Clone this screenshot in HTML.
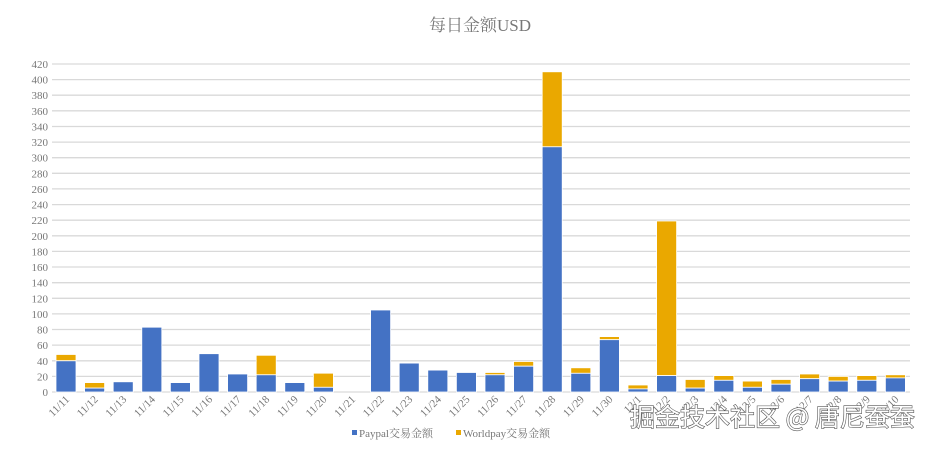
<!DOCTYPE html><html><head><meta charset="utf-8"><style>body{margin:0;background:#fff}svg text{font-family:"Liberation Serif","Noto Serif CJK SC",serif;fill:#777}</style></head><body>
<svg width="930" height="446" xmlns="http://www.w3.org/2000/svg">
<text x="480" y="31" font-size="17" text-anchor="middle" fill="#666">每日金额USD</text>
<g stroke="#d9d9d9" stroke-width="1.3">
<line x1="52" x2="910" y1="392" y2="392"/><line x1="52" x2="910" y1="376.4" y2="376.4"/><line x1="52" x2="910" y1="360.8" y2="360.8"/><line x1="52" x2="910" y1="345.1" y2="345.1"/><line x1="52" x2="910" y1="329.5" y2="329.5"/><line x1="52" x2="910" y1="313.9" y2="313.9"/><line x1="52" x2="910" y1="298.3" y2="298.3"/><line x1="52" x2="910" y1="282.7" y2="282.7"/><line x1="52" x2="910" y1="267" y2="267"/><line x1="52" x2="910" y1="251.4" y2="251.4"/><line x1="52" x2="910" y1="235.8" y2="235.8"/><line x1="52" x2="910" y1="220.2" y2="220.2"/><line x1="52" x2="910" y1="204.6" y2="204.6"/><line x1="52" x2="910" y1="188.9" y2="188.9"/><line x1="52" x2="910" y1="173.3" y2="173.3"/><line x1="52" x2="910" y1="157.7" y2="157.7"/><line x1="52" x2="910" y1="142.1" y2="142.1"/><line x1="52" x2="910" y1="126.5" y2="126.5"/><line x1="52" x2="910" y1="110.8" y2="110.8"/><line x1="52" x2="910" y1="95.2" y2="95.2"/><line x1="52" x2="910" y1="79.6" y2="79.6"/><line x1="52" x2="910" y1="64" y2="64"/>
</g>
<g font-size="11" text-anchor="end">
<text x="48" y="396">0</text><text x="48" y="380.4">20</text><text x="48" y="364.8">40</text><text x="48" y="349.1">60</text><text x="48" y="333.5">80</text><text x="48" y="317.9">100</text><text x="48" y="302.3">120</text><text x="48" y="286.7">140</text><text x="48" y="271">160</text><text x="48" y="255.4">180</text><text x="48" y="239.8">200</text><text x="48" y="224.2">220</text><text x="48" y="208.6">240</text><text x="48" y="192.9">260</text><text x="48" y="177.3">280</text><text x="48" y="161.7">300</text><text x="48" y="146.1">320</text><text x="48" y="130.5">340</text><text x="48" y="114.8">360</text><text x="48" y="99.2">380</text><text x="48" y="83.6">400</text><text x="48" y="68">420</text>
</g>
<g fill="#eaa800" stroke="#fff" stroke-width="0.8">
<rect x="56" y="354.5" width="20" height="6.2"/><rect x="84.6" y="382.6" width="20" height="5.5"/><rect x="256.2" y="355.3" width="20" height="19.5"/><rect x="313.4" y="373.2" width="20" height="14.1"/><rect x="485" y="372.5" width="20" height="2.3"/><rect x="513.6" y="361.5" width="20" height="4.7"/><rect x="542.2" y="71.8" width="20" height="75"/><rect x="570.8" y="367.8" width="20" height="5.5"/><rect x="599.4" y="336.6" width="20" height="3.1"/><rect x="628" y="385" width="20" height="3.9"/><rect x="656.6" y="221" width="20" height="154.6"/><rect x="685.2" y="379.5" width="20" height="8.6"/><rect x="713.8" y="375.6" width="20" height="4.7"/><rect x="742.4" y="381.1" width="20" height="6.2"/><rect x="771" y="379.5" width="20" height="4.7"/><rect x="799.6" y="374" width="20" height="4.7"/><rect x="828.2" y="376.4" width="20" height="4.7"/><rect x="856.8" y="375.6" width="20" height="4.7"/><rect x="885.4" y="374.8" width="20" height="3.1"/>
</g>
<g fill="#4472c4" stroke="#fff" stroke-width="0.8">
<rect x="56" y="360.8" width="20" height="31.2"/><rect x="84.6" y="388.1" width="20" height="3.9"/><rect x="113.2" y="381.8" width="20" height="10.2"/><rect x="141.8" y="327.2" width="20" height="64.8"/><rect x="170.4" y="382.6" width="20" height="9.4"/><rect x="199" y="353.7" width="20" height="38.3"/><rect x="227.6" y="374" width="20" height="18"/><rect x="256.2" y="374.8" width="20" height="17.2"/><rect x="284.8" y="382.6" width="20" height="9.4"/><rect x="313.4" y="387.3" width="20" height="4.7"/><rect x="370.6" y="310" width="20" height="82"/><rect x="399.2" y="363.1" width="20" height="28.9"/><rect x="427.8" y="370.1" width="20" height="21.9"/><rect x="456.4" y="372.5" width="20" height="19.5"/><rect x="485" y="374.8" width="20" height="17.2"/><rect x="513.6" y="366.2" width="20" height="25.8"/><rect x="542.2" y="146.8" width="20" height="245.2"/><rect x="570.8" y="373.3" width="20" height="18.7"/><rect x="599.4" y="339.7" width="20" height="52.3"/><rect x="628" y="388.9" width="20" height="3.1"/><rect x="656.6" y="375.6" width="20" height="16.4"/><rect x="685.2" y="388.1" width="20" height="3.9"/><rect x="713.8" y="380.3" width="20" height="11.7"/><rect x="742.4" y="387.3" width="20" height="4.7"/><rect x="771" y="384.2" width="20" height="7.8"/><rect x="799.6" y="378.7" width="20" height="13.3"/><rect x="828.2" y="381.1" width="20" height="10.9"/><rect x="856.8" y="380.3" width="20" height="11.7"/><rect x="885.4" y="377.9" width="20" height="14.1"/>
</g>
<g font-size="11" text-anchor="end">
<text transform="translate(70,400) rotate(-45)">11/11</text><text transform="translate(98.6,400) rotate(-45)">11/12</text><text transform="translate(127.2,400) rotate(-45)">11/13</text><text transform="translate(155.8,400) rotate(-45)">11/14</text><text transform="translate(184.4,400) rotate(-45)">11/15</text><text transform="translate(213,400) rotate(-45)">11/16</text><text transform="translate(241.6,400) rotate(-45)">11/17</text><text transform="translate(270.2,400) rotate(-45)">11/18</text><text transform="translate(298.8,400) rotate(-45)">11/19</text><text transform="translate(327.4,400) rotate(-45)">11/20</text><text transform="translate(356,400) rotate(-45)">11/21</text><text transform="translate(384.6,400) rotate(-45)">11/22</text><text transform="translate(413.2,400) rotate(-45)">11/23</text><text transform="translate(441.8,400) rotate(-45)">11/24</text><text transform="translate(470.4,400) rotate(-45)">11/25</text><text transform="translate(499,400) rotate(-45)">11/26</text><text transform="translate(527.6,400) rotate(-45)">11/27</text><text transform="translate(556.2,400) rotate(-45)">11/28</text><text transform="translate(584.8,400) rotate(-45)">11/29</text><text transform="translate(613.4,400) rotate(-45)">11/30</text><text transform="translate(642,400) rotate(-45)">12/1</text><text transform="translate(670.6,400) rotate(-45)">12/2</text><text transform="translate(699.2,400) rotate(-45)">12/3</text><text transform="translate(727.8,400) rotate(-45)">12/4</text><text transform="translate(756.4,400) rotate(-45)">12/5</text><text transform="translate(785,400) rotate(-45)">12/6</text><text transform="translate(813.6,400) rotate(-45)">12/7</text><text transform="translate(842.2,400) rotate(-45)">12/8</text><text transform="translate(870.8,400) rotate(-45)">12/9</text><text transform="translate(899.4,400) rotate(-45)">12/10</text>
</g>
<rect x="352" y="430" width="5" height="5" fill="#4472c4"/><text x="359" y="437" font-size="11">Paypal交易金额</text>
<rect x="456" y="430" width="5" height="5" fill="#eaa800"/><text x="463" y="437" font-size="11">Worldpay交易金额</text>
<text x="630" y="426" font-size="25" style="font-family:'Noto Sans CJK SC',sans-serif;fill:#fff;stroke:#555;stroke-width:1.2;paint-order:stroke">掘金技术社区 @ 唐尼蚕蚕</text>
</svg></body></html>
